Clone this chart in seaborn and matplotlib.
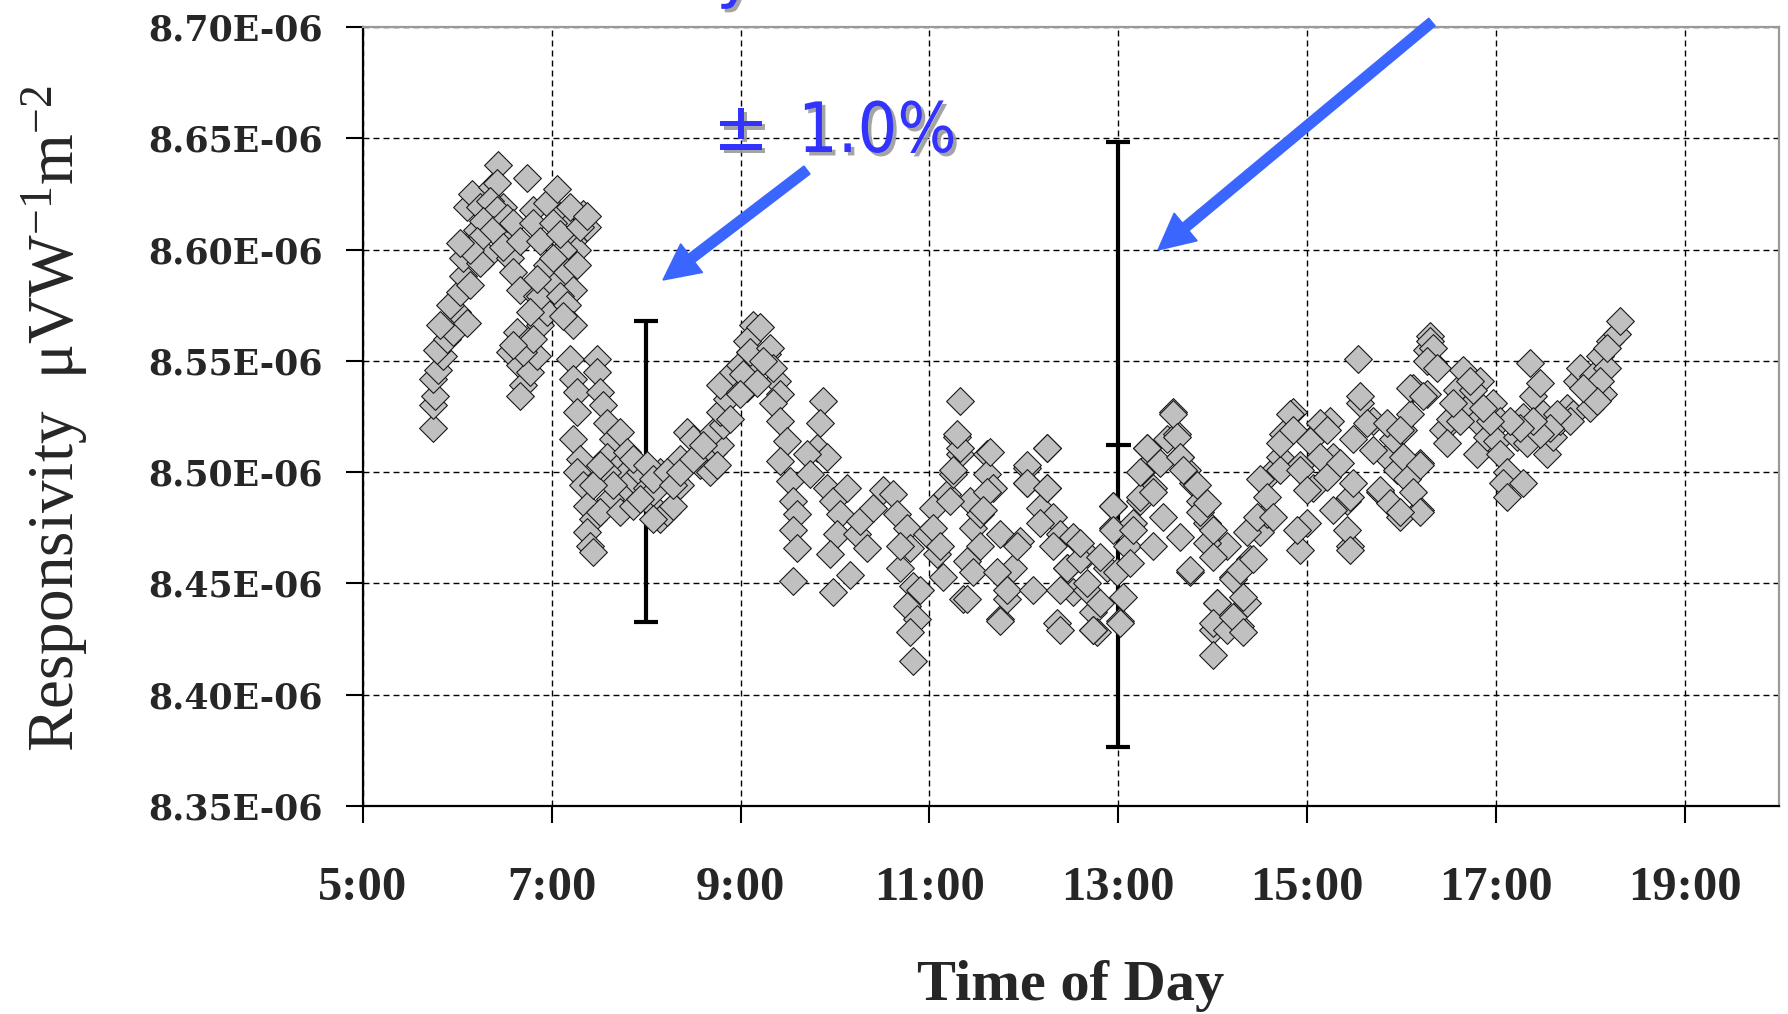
import matplotlib
matplotlib.use("Agg")
import matplotlib.pyplot as plt
import matplotlib.patheffects as pe
from matplotlib.patches import FancyArrow
from matplotlib.transforms import IdentityTransform
import seaborn as sns
import pandas as pd
import numpy as np

# ---------------- data (time of day in decimal hours, responsivity in 1e-6 units) ----------------
time_h = [
    5.745, 5.745, 5.763, 5.745, 5.798, 5.851, 5.781, 5.886, 5.957, 5.816, 5.992, 5.922, 6.098, 6.028,
    6.063, 6.134, 6.063, 6.134, 6.204, 6.098, 6.151, 6.310, 6.363, 6.434, 6.416, 6.487, 6.451, 6.522,
    6.310, 6.240, 6.557, 6.593, 6.663, 6.840, 6.628, 6.769, 6.557, 6.663, 6.699, 6.663, 6.769, 6.840,
    6.875, 6.946, 6.875, 7.016, 6.946, 6.734, 6.805, 6.946, 7.052, 7.087, 7.158, 7.228, 7.334, 7.370,
    7.264, 7.122, 7.158, 7.228, 7.087, 7.158, 7.228, 7.122, 7.193, 7.228, 7.264, 7.264, 7.228, 7.299,
    7.264, 7.334, 7.370, 7.440, 7.370, 7.405, 7.440, 7.475, 7.475, 7.511, 7.546, 7.581, 7.652, 7.723,
    7.581, 7.723, 7.793, 7.723, 7.617, 7.511, 7.864, 7.935, 8.005, 8.076, 8.146, 8.217, 8.288, 8.146,
    8.076, 8.358, 8.429, 8.500, 8.358, 8.570, 8.641, 8.711, 8.782, 8.711, 8.817, 8.782, 8.853, 8.782,
    8.923, 8.994, 9.100, 9.135,
    6.240, 6.345, 6.416, 6.275, 6.381, 6.204, 6.134, 6.028, 6.522, 6.593, 6.487, 6.663, 6.805, 6.875,
    7.016, 7.087, 7.193, 7.300, 7.370, 7.264, 7.016, 6.840, 6.769, 6.699, 6.805, 6.593,
    7.793, 7.864, 8.005, 8.076, 8.217, 8.288, 8.358, 8.500, 8.605, 8.676, 8.746, 8.888, 8.994, 9.064,
    7.581, 7.652, 7.440, 7.511, 7.723, 7.864, 7.935, 8.076,
    9.064, 9.135, 9.277, 9.382, 9.064,
    9.206, 9.100, 9.312, 9.347, 9.029, 9.171, 9.241, 8.994, 9.418, 9.347, 9.418, 9.488, 9.418, 9.524,
    9.559, 9.594, 9.559, 9.594, 9.559, 9.877, 9.841, 9.806, 9.912, 9.700, 9.736, 9.912, 9.983, 10.124,
    10.053, 10.018, 9.947, 9.983, 10.159, 10.230, 10.265, 10.406, 10.336, 10.512, 10.618, 10.654,
    10.760, 10.795, 10.689, 10.830, 10.760, 10.865, 10.795, 10.830, 10.971, 11.077, 11.148, 11.042,
    11.183, 11.254, 11.325, 11.289, 11.325, 11.430, 11.466, 11.395, 11.360, 11.536, 11.607, 11.607,
    11.678, 11.748, 11.748, 11.819, 11.890, 11.960, 12.031, 12.031, 12.243, 12.172, 12.243, 12.313,
    12.384, 12.455, 12.349, 12.525, 12.666, 12.737, 12.772,
    10.689, 10.901, 11.042, 11.113, 11.219, 11.325, 11.289, 11.254, 11.395, 11.466, 11.536, 11.607,
    11.642, 11.572, 11.713, 11.748, 11.819, 11.925, 12.031, 12.031, 12.101, 12.172, 12.243, 12.243,
    12.313, 12.384, 12.384, 12.455, 12.525, 12.596, 12.666, 12.737, 12.808, 12.878, 12.949, 12.949,
    12.984, 13.020, 13.090, 13.161, 13.231, 13.302, 13.267, 13.373, 13.373, 13.514, 13.585, 13.620,
    13.655, 13.726, 13.796, 13.867, 13.938, 13.761, 14.008, 14.044, 14.008, 14.008, 14.150, 14.220,
    14.291, 14.361, 14.397, 14.503, 14.573, 14.609, 14.714, 14.750, 14.856, 14.926, 14.997, 15.068,
    15.138, 15.244, 15.279, 15.420, 15.456, 15.491, 15.544, 15.562, 15.703, 15.774, 15.844, 15.915,
    12.595, 12.736, 12.666, 12.807, 12.948, 12.948, 13.019, 13.054, 13.125, 13.160, 13.231, 13.231,
    13.301, 13.372, 13.442, 13.478, 13.584, 13.619, 13.654, 13.690, 13.654, 13.760, 13.831, 13.866,
    13.937, 13.937, 14.007, 14.007, 14.043, 14.007, 14.149, 14.219, 14.219, 14.290, 14.325, 14.325,
    14.361, 14.431, 14.466, 14.502, 14.572, 14.643, 14.714, 14.714, 14.820, 14.855, 14.926, 14.926,
    14.890, 14.996, 15.031, 15.137, 15.137, 15.208, 15.208, 15.279, 15.349, 15.420, 15.455, 15.455,
    15.490, 15.561, 15.632, 15.702, 15.773, 15.844, 15.879, 15.950, 15.985, 16.020, 16.126, 16.090,
    16.197, 16.197, 16.267, 16.303, 16.338, 16.267,
    15.985, 16.020, 16.056, 16.197, 16.126, 16.197, 15.985, 16.091, 16.232, 16.303, 16.338, 16.267,
    16.373, 16.444, 16.515, 16.479, 16.585, 16.656, 16.691, 16.797, 16.832, 16.797, 16.903, 16.974,
    17.044, 17.009, 17.044, 17.115, 17.080, 17.115, 17.221, 17.292, 17.327, 17.292, 17.362, 17.397,
    17.468, 17.503, 17.539, 17.609, 17.680, 17.750, 17.821, 17.856, 17.892, 17.962, 17.998, 18.033,
    18.104, 18.139, 18.174, 18.210, 18.280, 18.316,
    18.174, 18.104, 18.068, 17.927, 17.786, 17.645, 17.574, 17.468, 17.397, 17.256, 17.150, 16.938,
    16.868, 16.762, 16.727, 16.620, 16.550,
]

resp_e6 = [
    8.520, 8.530, 8.534, 8.542, 8.546, 8.552, 8.555, 8.560, 8.563, 8.566, 8.572, 8.575, 8.567, 8.581,
    8.588, 8.584, 8.596, 8.603, 8.609, 8.619, 8.625, 8.616, 8.628, 8.638, 8.630, 8.619, 8.612, 8.606,
    8.597, 8.594, 8.596, 8.590, 8.582, 8.579, 8.563, 8.560, 8.554, 8.548, 8.539, 8.534, 8.545, 8.552,
    8.566, 8.572, 8.579, 8.585, 8.593, 8.632, 8.618, 8.621, 8.627, 8.615, 8.610, 8.604, 8.616, 8.610,
    8.600, 8.600, 8.590, 8.582, 8.579, 8.575, 8.566, 8.570, 8.551, 8.542, 8.536, 8.527, 8.515, 8.506,
    8.500, 8.494, 8.485, 8.479, 8.473, 8.467, 8.464, 8.551, 8.545, 8.536, 8.530, 8.522, 8.515, 8.518,
    8.507, 8.503, 8.500, 8.491, 8.488, 8.482, 8.497, 8.500, 8.493, 8.485, 8.479, 8.482, 8.485, 8.500,
    8.491, 8.494, 8.518, 8.515, 8.506, 8.503, 8.506, 8.509, 8.512, 8.518, 8.521, 8.527, 8.533, 8.539,
    8.545, 8.548, 8.554, 8.566,
    8.619, 8.622, 8.618, 8.613, 8.609, 8.604, 8.600, 8.603, 8.614, 8.612, 8.601, 8.604, 8.612, 8.604,
    8.612, 8.607, 8.619, 8.610, 8.615, 8.593, 8.596, 8.587, 8.572, 8.554, 8.560, 8.557,
    8.509, 8.506, 8.503, 8.497, 8.500, 8.494, 8.500, 8.506, 8.512, 8.500, 8.503, 8.524, 8.536, 8.545,
    8.500, 8.494, 8.494, 8.503, 8.482, 8.485, 8.488, 8.479,
    8.559, 8.547, 8.553, 8.541, 8.538,
    8.565, 8.554, 8.556, 8.547, 8.544, 8.540, 8.550, 8.535, 8.535, 8.531, 8.523, 8.514, 8.505, 8.496,
    8.487, 8.481, 8.474, 8.466, 8.451, 8.532, 8.522, 8.511, 8.507, 8.508, 8.499, 8.493, 8.487, 8.493,
    8.481, 8.472, 8.463, 8.446, 8.454, 8.472, 8.478, 8.484, 8.466, 8.492, 8.490, 8.481,
    8.475, 8.466, 8.457, 8.449, 8.440, 8.434, 8.428, 8.415, 8.472, 8.463, 8.453, 8.484,
    8.490, 8.499, 8.532, 8.516, 8.508, 8.487, 8.475, 8.460, 8.443, 8.481, 8.508, 8.499,
    8.493, 8.472, 8.434, 8.443, 8.457, 8.469, 8.502, 8.495, 8.511, 8.484, 8.493, 8.480,
    8.472, 8.457, 8.432, 8.446, 8.463, 8.437, 8.428,
    8.467, 8.447, 8.475, 8.467, 8.487, 8.511, 8.517, 8.501, 8.443, 8.455, 8.467, 8.491,
    8.509, 8.483, 8.455, 8.433, 8.447, 8.467, 8.503, 8.495, 8.447, 8.477, 8.511, 8.493,
    8.467, 8.447, 8.429, 8.457, 8.471, 8.461, 8.447, 8.429, 8.441, 8.457, 8.485, 8.475,
    8.455, 8.433, 8.467, 8.477, 8.487, 8.511, 8.501, 8.467, 8.493, 8.515, 8.527, 8.517,
    8.507, 8.501, 8.495, 8.487, 8.477, 8.455, 8.467, 8.441, 8.429, 8.418, 8.467, 8.453,
    8.431, 8.441, 8.461, 8.473, 8.481, 8.499, 8.507, 8.517, 8.527, 8.503, 8.477, 8.493,
    8.519, 8.523, 8.507, 8.487, 8.467, 8.515, 8.551, 8.531, 8.523, 8.491, 8.507, 8.515,
    8.468, 8.429, 8.450, 8.462, 8.485, 8.474, 8.432, 8.444, 8.459, 8.474, 8.489, 8.500,
    8.511, 8.491, 8.504, 8.480, 8.526, 8.516, 8.507, 8.501, 8.471, 8.456, 8.494, 8.482,
    8.486, 8.468, 8.474, 8.462, 8.441, 8.432, 8.429, 8.452, 8.435, 8.456, 8.444, 8.428,
    8.473, 8.461, 8.480, 8.497, 8.489, 8.480, 8.501, 8.513, 8.526, 8.519, 8.501, 8.465,
    8.474, 8.492, 8.514, 8.507, 8.522, 8.519, 8.498, 8.483, 8.504, 8.474, 8.465, 8.489,
    8.495, 8.534, 8.522, 8.510, 8.492, 8.522, 8.486, 8.501, 8.480, 8.519, 8.538, 8.526,
    8.504, 8.483, 8.555, 8.561, 8.549, 8.535,
    8.519, 8.507, 8.497, 8.503, 8.491, 8.482, 8.482, 8.538, 8.534, 8.559, 8.556, 8.550,
    8.547, 8.519, 8.524, 8.513, 8.537, 8.546, 8.529, 8.523, 8.541, 8.508, 8.516, 8.531,
    8.523, 8.514, 8.508, 8.500, 8.495, 8.489, 8.516, 8.525, 8.513, 8.495, 8.549, 8.534,
    8.540, 8.526, 8.508, 8.516, 8.523, 8.529, 8.526, 8.541, 8.547, 8.537, 8.529, 8.543,
    8.552, 8.535, 8.547, 8.559, 8.562, 8.568,
    8.556, 8.541, 8.532, 8.538, 8.523, 8.526, 8.520, 8.517, 8.523, 8.520, 8.523, 8.523,
    8.529, 8.537, 8.541, 8.523, 8.531,
]

# error bars (time, centre, lower end, upper end) in 1e-6 units
err_time = [8.0, 13.0]
err_centre = [8.500, 8.512]
err_low = [8.4325, 8.3766]
err_high = [8.5678, 8.6482]

x_ticks = [5, 7, 9, 11, 13, 15, 17, 19]
x_ticklabels = ["5:00", "7:00", "9:00", "11:00", "13:00", "15:00", "17:00", "19:00"]
y_ticks_e6 = [8.35, 8.40, 8.45, 8.50, 8.55, 8.60, 8.65, 8.70]
y_ticklabels = ["8.35E-06", "8.40E-06", "8.45E-06", "8.50E-06", "8.55E-06", "8.60E-06", "8.65E-06", "8.70E-06"]

x_label = "Time of Day"
y_label = "Responsivity  \u03bcVW$^{-1}$m$^{-2}$"
annot_pm = "\u00b1"
annot_pct = "1.0%"
top_text = "Uncertainty of Calibration  \u00b1  2.0%"

# ---------------- style ----------------
sns.set_style("white")
plt.rcParams["mathtext.fontset"] = "custom"
plt.rcParams["mathtext.rm"] = "Liberation Serif"
plt.rcParams["mathtext.it"] = "Liberation Serif:italic"
plt.rcParams["mathtext.bf"] = "Liberation Serif:bold"
plt.rcParams["font.family"] = ["Liberation Serif", "DejaVu Serif"]

W, H = 1788, 1014
fig = plt.figure(figsize=(W / 100, H / 100), dpi=100)
fig.patch.set_facecolor("white")
ax = fig.add_axes([363 / W, 1 - 806 / H, 1416 / W, 779 / H])

df = pd.DataFrame({"time": time_h, "resp": np.array(resp_e6) * 1e-6})

# error bars (under the points)
centre = np.array(err_centre) * 1e-6
yerr = np.vstack([centre - np.array(err_low) * 1e-6, np.array(err_high) * 1e-6 - centre])
ax.errorbar(err_time[:1], centre[:1], yerr=yerr[:, :1], fmt="none", ecolor="black",
            elinewidth=3.0, capsize=8.5, capthick=3.0, zorder=2)
ax.errorbar(err_time[1:], centre[1:], yerr=yerr[:, 1:], fmt="_", color="black", ms=18, mew=3.0,
            ecolor="black", elinewidth=3.0, capsize=8.5, capthick=3.0, zorder=2)

sns.scatterplot(data=df, x="time", y="resp", marker="D", s=200, color="#c0c0c0",
                edgecolor="#1a1a1a", linewidth=0.8, ax=ax, zorder=3, legend=False)

ax.set_xlim(5, 20)
ax.set_ylim(8.35e-6, 8.70e-6)
ax.set_xticks(x_ticks)
ax.set_xticklabels(x_ticklabels, fontsize=35, family="Liberation Serif", fontweight="bold")
ax.set_yticks(np.array(y_ticks_e6) * 1e-6)
ax.set_yticklabels(y_ticklabels, fontsize=25, family="DejaVu Serif", fontweight="bold")
ax.set_xlabel("")
ax.set_ylabel("")

ax.set_axisbelow(True)
ax.grid(True, color="black", linestyle=(0, (4.3, 2.9)), linewidth=1.0)

for side in ["left", "bottom"]:
    ax.spines[side].set_color("black")
    ax.spines[side].set_linewidth(1.6)
for side in ["top", "right"]:
    ax.spines[side].set_color("#9a9a9a")
    ax.spines[side].set_linewidth(1.6)

ax.tick_params(axis="x", direction="out", length=12, width=1.5, color="black", pad=31,
               bottom=True, top=False)
ax.tick_params(axis="y", direction="out", length=12, width=1.5, color="black", pad=17,
               left=True, right=False)

fig.text(1071 / W, 1 - 986 / H, x_label, ha="center", va="center", fontsize=42,
         fontweight="bold", family="Liberation Serif")
fig.text(55 / W, 1 - 418 / H, y_label, rotation=90, ha="center", va="center", fontsize=47,
         family="Liberation Serif")

# blue annotations with shadow
shadow = [pe.SimplePatchShadow(offset=(2.5, -2.5), shadow_rgbFace="#9a9a9a", alpha=0.9), pe.Normal()]
blue_txt = "#3333ff"
fig.text(713 / W, 1 - 150 / H, annot_pm, ha="left", va="baseline", fontsize=48, color=blue_txt,
         family="DejaVu Sans", path_effects=shadow)
fig.text(798 / W, 1 - 152 / H, annot_pct, ha="left", va="baseline", fontsize=50, color=blue_txt,
         family="DejaVu Sans", fontstretch="condensed", path_effects=shadow)
fig.text(366 / W, 1 + 5 / H, top_text, ha="left", va="baseline", fontsize=48, color=blue_txt,
         family="DejaVu Sans", path_effects=shadow)

# blue arrows (display pixel coordinates, origin bottom-left)
arrow_blue = "#3a66ff"
for (x0, y0, x1, y1) in [(807, 170, 663, 280), (1432, 22, 1158, 250)]:
    arr = FancyArrow(x0, H - y0, x1 - x0, (H - y1) - (H - y0), width=10, head_width=36,
                     head_length=36, length_includes_head=True, color=arrow_blue,
                     transform=IdentityTransform(), zorder=10)
    fig.add_artist(arr)

fig.savefig("out.png", dpi=100, facecolor="white")
